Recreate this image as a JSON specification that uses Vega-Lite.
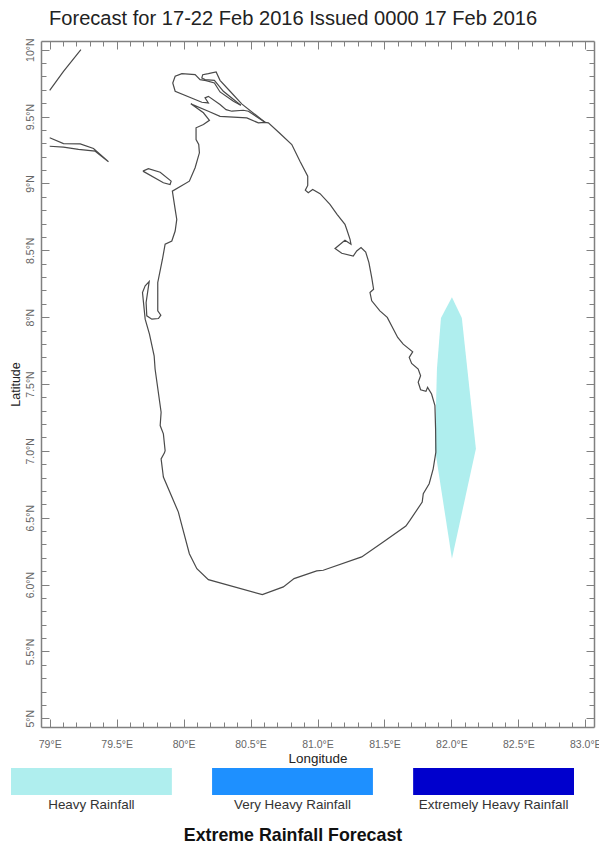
{"$schema":"https://vega.github.io/schema/vega-lite/v6.json","padding":{"left":8,"top":8,"right":0,"bottom":0},"background":"white","datasets":{"rain":[{"lat":8.149,"west":82.004,"east":82.004},{"lat":7.993,"west":81.922,"east":82.078},{"lat":7.612,"west":81.892,"east":82.119},{"lat":7.015,"west":81.877,"east":82.183},{"lat":6.194,"west":82.004,"east":82.004}],
"coast":[
{"s":"india1","seq":1,"lon":79.0,"lat":9.696},{"s":"india1","seq":2,"lon":79.103,"lat":9.838},{"s":"india1","seq":3,"lon":79.233,"lat":10.0},
{"s":"india2","seq":1,"lon":79.0,"lat":9.341},{"s":"india2","seq":2,"lon":79.103,"lat":9.298},{"s":"india2","seq":3,"lon":79.228,"lat":9.296},{"s":"india2","seq":4,"lon":79.327,"lat":9.261},{"s":"india2","seq":5,"lon":79.439,"lat":9.162},{"s":"india2","seq":6,"lon":79.34,"lat":9.241},{"s":"india2","seq":7,"lon":79.215,"lat":9.254},{"s":"india2","seq":8,"lon":79.103,"lat":9.271},{"s":"india2","seq":9,"lon":79.0,"lat":9.278},
{"s":"isle","seq":1,"lon":79.696,"lat":9.092},{"s":"isle","seq":2,"lon":79.737,"lat":9.11},{"s":"isle","seq":3,"lon":79.825,"lat":9.084},{"s":"isle","seq":4,"lon":79.907,"lat":9.017},{"s":"isle","seq":5,"lon":79.899,"lat":8.992},{"s":"isle","seq":6,"lon":79.849,"lat":9.005},{"s":"isle","seq":7,"lon":79.696,"lat":9.092},
{"s":"pen","seq":1,"lon":80.608,"lat":9.457},{"s":"pen","seq":2,"lon":80.484,"lat":9.54},{"s":"pen","seq":3,"lon":80.446,"lat":9.547},{"s":"pen","seq":4,"lon":80.36,"lat":9.54},{"s":"pen","seq":5,"lon":80.317,"lat":9.552},{"s":"pen","seq":6,"lon":80.272,"lat":9.59},{"s":"pen","seq":7,"lon":80.185,"lat":9.651},{"s":"pen","seq":8,"lon":80.16,"lat":9.64},{"s":"pen","seq":9,"lon":80.185,"lat":9.602},{"s":"pen","seq":10,"lon":80.136,"lat":9.607},{"s":"pen","seq":11,"lon":79.937,"lat":9.689},{"s":"pen","seq":12,"lon":79.919,"lat":9.751},{"s":"pen","seq":13,"lon":79.937,"lat":9.801},{"s":"pen","seq":14,"lon":79.987,"lat":9.821},{"s":"pen","seq":15,"lon":80.086,"lat":9.813},{"s":"pen","seq":16,"lon":80.123,"lat":9.776},{"s":"pen","seq":17,"lon":80.168,"lat":9.769},{"s":"pen","seq":18,"lon":80.23,"lat":9.751},{"s":"pen","seq":19,"lon":80.272,"lat":9.684},{"s":"pen","seq":20,"lon":80.372,"lat":9.614},{"s":"pen","seq":21,"lon":80.427,"lat":9.584},
{"s":"strip","seq":1,"lon":80.427,"lat":9.584},{"s":"strip","seq":2,"lon":80.297,"lat":9.689},{"s":"strip","seq":3,"lon":80.23,"lat":9.771},{"s":"strip","seq":4,"lon":80.16,"lat":9.776},{"s":"strip","seq":5,"lon":80.136,"lat":9.789},{"s":"strip","seq":6,"lon":80.143,"lat":9.813},{"s":"strip","seq":7,"lon":80.185,"lat":9.821},{"s":"strip","seq":8,"lon":80.243,"lat":9.834},{"s":"strip","seq":9,"lon":80.272,"lat":9.771},{"s":"strip","seq":10,"lon":80.347,"lat":9.689},{"s":"strip","seq":11,"lon":80.434,"lat":9.595},{"s":"strip","seq":12,"lon":80.608,"lat":9.457},
{"s":"main","seq":1,"lon":79.842,"lat":8.433},{"s":"main","seq":2,"lon":79.862,"lat":8.545},{"s":"main","seq":3,"lon":79.912,"lat":8.569},{"s":"main","seq":4,"lon":79.937,"lat":8.644},{"s":"main","seq":5,"lon":79.949,"lat":8.731},{"s":"main","seq":6,"lon":79.937,"lat":8.806},{"s":"main","seq":7,"lon":79.916,"lat":8.942},{"s":"main","seq":8,"lon":80.043,"lat":9.017},{"s":"main","seq":9,"lon":80.086,"lat":9.117},{"s":"main","seq":10,"lon":80.118,"lat":9.229},{"s":"main","seq":11,"lon":80.113,"lat":9.291},{"s":"main","seq":12,"lon":80.093,"lat":9.328},{"s":"main","seq":13,"lon":80.093,"lat":9.416},{"s":"main","seq":14,"lon":80.148,"lat":9.44},{"s":"main","seq":15,"lon":80.193,"lat":9.472},{"s":"main","seq":16,"lon":80.148,"lat":9.528},{"s":"main","seq":17,"lon":80.054,"lat":9.595},{"s":"main","seq":18,"lon":80.185,"lat":9.54},{"s":"main","seq":19,"lon":80.272,"lat":9.502},{"s":"main","seq":20,"lon":80.472,"lat":9.49},{"s":"main","seq":21,"lon":80.558,"lat":9.453},{"s":"main","seq":22,"lon":80.608,"lat":9.457},{"s":"main","seq":23,"lon":80.633,"lat":9.453},{"s":"main","seq":24,"lon":80.72,"lat":9.373},{"s":"main","seq":25,"lon":80.808,"lat":9.291},{"s":"main","seq":26,"lon":80.869,"lat":9.166},{"s":"main","seq":27,"lon":80.927,"lat":9.054},{"s":"main","seq":28,"lon":80.927,"lat":8.985},{"s":"main","seq":29,"lon":80.909,"lat":8.95},{"s":"main","seq":30,"lon":80.931,"lat":8.931},{"s":"main","seq":31,"lon":80.964,"lat":8.955},{"s":"main","seq":32,"lon":81.019,"lat":8.923},{"s":"main","seq":33,"lon":81.093,"lat":8.843},{"s":"main","seq":34,"lon":81.146,"lat":8.769},{"s":"main","seq":35,"lon":81.205,"lat":8.694},{"s":"main","seq":36,"lon":81.218,"lat":8.657},{"s":"main","seq":37,"lon":81.243,"lat":8.582},{"s":"main","seq":38,"lon":81.25,"lat":8.545},{"s":"main","seq":39,"lon":81.205,"lat":8.575},{"s":"main","seq":40,"lon":81.131,"lat":8.513},{"s":"main","seq":41,"lon":81.181,"lat":8.478},{"s":"main","seq":42,"lon":81.267,"lat":8.457},{"s":"main","seq":43,"lon":81.293,"lat":8.495},{"s":"main","seq":44,"lon":81.325,"lat":8.52},{"s":"main","seq":45,"lon":81.36,"lat":8.487},{"s":"main","seq":46,"lon":81.384,"lat":8.408},{"s":"main","seq":47,"lon":81.405,"lat":8.296},{"s":"main","seq":48,"lon":81.419,"lat":8.209},{"s":"main","seq":49,"lon":81.392,"lat":8.184},{"s":"main","seq":50,"lon":81.405,"lat":8.122},{"s":"main","seq":51,"lon":81.466,"lat":8.047},{"s":"main","seq":52,"lon":81.521,"lat":7.998},{"s":"main","seq":53,"lon":81.599,"lat":7.848},{"s":"main","seq":54,"lon":81.64,"lat":7.798},{"s":"main","seq":55,"lon":81.711,"lat":7.741},{"s":"main","seq":56,"lon":81.685,"lat":7.699},{"s":"main","seq":57,"lon":81.703,"lat":7.654},{"s":"main","seq":58,"lon":81.752,"lat":7.612},{"s":"main","seq":59,"lon":81.77,"lat":7.562},{"s":"main","seq":60,"lon":81.752,"lat":7.513},{"s":"main","seq":61,"lon":81.77,"lat":7.457},{"s":"main","seq":62,"lon":81.81,"lat":7.445},{"s":"main","seq":63,"lon":81.822,"lat":7.475},{"s":"main","seq":64,"lon":81.852,"lat":7.425},{"s":"main","seq":65,"lon":81.877,"lat":7.338},{"s":"main","seq":66,"lon":81.882,"lat":7.164},{"s":"main","seq":67,"lon":81.884,"lat":6.99},{"s":"main","seq":68,"lon":81.864,"lat":6.866},{"s":"main","seq":69,"lon":81.834,"lat":6.754},{"s":"main","seq":70,"lon":81.79,"lat":6.679},{"s":"main","seq":71,"lon":81.782,"lat":6.617},{"s":"main","seq":72,"lon":81.69,"lat":6.48},{"s":"main","seq":73,"lon":81.66,"lat":6.438},{"s":"main","seq":74,"lon":81.491,"lat":6.319},{"s":"main","seq":75,"lon":81.33,"lat":6.207},{"s":"main","seq":76,"lon":81.043,"lat":6.107},{"s":"main","seq":77,"lon":80.994,"lat":6.102},{"s":"main","seq":78,"lon":80.825,"lat":6.045},{"s":"main","seq":79,"lon":80.745,"lat":5.983},{"s":"main","seq":80,"lon":80.588,"lat":5.925},{"s":"main","seq":81,"lon":80.185,"lat":6.037},{"s":"main","seq":82,"lon":80.099,"lat":6.119},{"s":"main","seq":83,"lon":80.043,"lat":6.231},{"s":"main","seq":84,"lon":79.974,"lat":6.492},{"s":"main","seq":85,"lon":79.961,"lat":6.542},{"s":"main","seq":86,"lon":79.849,"lat":6.804},{"s":"main","seq":87,"lon":79.832,"lat":6.94},{"s":"main","seq":88,"lon":79.857,"lat":6.985},{"s":"main","seq":89,"lon":79.862,"lat":7.002},{"s":"main","seq":90,"lon":79.849,"lat":7.127},{"s":"main","seq":91,"lon":79.825,"lat":7.189},{"s":"main","seq":92,"lon":79.832,"lat":7.289},{"s":"main","seq":93,"lon":79.787,"lat":7.612},{"s":"main","seq":94,"lon":79.78,"lat":7.711},{"s":"main","seq":95,"lon":79.745,"lat":7.873},{"s":"main","seq":96,"lon":79.713,"lat":7.985},{"s":"main","seq":97,"lon":79.693,"lat":8.184},{"s":"main","seq":98,"lon":79.713,"lat":8.234},{"s":"main","seq":99,"lon":79.743,"lat":8.266},{"s":"main","seq":100,"lon":79.72,"lat":8.11},{"s":"main","seq":101,"lon":79.725,"lat":8.01},{"s":"main","seq":102,"lon":79.763,"lat":7.985},{"s":"main","seq":103,"lon":79.812,"lat":7.99},{"s":"main","seq":104,"lon":79.83,"lat":8.015},{"s":"main","seq":105,"lon":79.807,"lat":8.047},{"s":"main","seq":106,"lon":79.807,"lat":8.259},{"s":"main","seq":107,"lon":79.842,"lat":8.433}
],
"legend":[{"category":"Heavy Rainfall"},{"category":"Very Heavy Rainfall"},{"category":"Extremely Heavy Rainfall"}]},
"vconcat":[
{"width":553,"height":686,
"title":{"text":"Forecast for 17-22 Feb 2016 Issued 0000 17 Feb 2016","anchor":"start","frame":"group","offset":9,"dx":8,"font":"Liberation Sans","fontSize":20.1,"fontWeight":"normal","color":"#222222"},
"view":{"stroke":null},
"layer":[
{"data":{"name":"rain"},"mark":{"type":"area","orient":"horizontal","color":"#AFEEEE"},
"encoding":{
"y":{"field":"lat","type":"quantitative","scale":{"domain":[4.935,10.065],"nice":false,"zero":false},
"axis":{"orient":"right","title":null,"labels":false,"values":[5,5.1,5.2,5.3,5.4,5.5,5.6,5.7,5.8,5.9,6,6.1,6.2,6.3,6.4,6.5,6.6,6.7,6.8,6.9,7,7.1,7.2,7.3,7.4,7.5,7.6,7.7,7.8,7.9,8,8.1,8.2,8.3,8.4,8.5,8.6,8.7,8.8,8.9,9,9.1,9.2,9.3,9.4,9.5,9.6,9.7,9.8,9.9,10],"grid":false,"domainColor":"#808080","domainWidth":1.5,"tickColor":"#808080","tickSize":{"condition":{"test":"abs(round(datum.value*2)-datum.value*2)<0.01","value":-8},"value":-5}}},
"x":{"field":"west","type":"quantitative","scale":{"domain":[78.935,83.065],"nice":false,"zero":false},
"axis":{"orient":"top","title":null,"labels":false,"values":[79,79.1,79.2,79.3,79.4,79.5,79.6,79.7,79.8,79.9,80,80.1,80.2,80.3,80.4,80.5,80.6,80.7,80.8,80.9,81,81.1,81.2,81.3,81.4,81.5,81.6,81.7,81.8,81.9,82,82.1,82.2,82.3,82.4,82.5,82.6,82.7,82.8,82.9,83],"grid":false,"domainColor":"#808080","domainWidth":1.5,"tickColor":"#808080","tickSize":{"condition":{"test":"abs(round(datum.value*2)-datum.value*2)<0.01","value":-8},"value":-5}}},
"x2":{"field":"east"}}},
{"data":{"name":"coast"},"mark":{"type":"line","color":"#4a4a4a","strokeWidth":1.2,"clip":true},
"encoding":{
"detail":{"field":"s"},"order":{"field":"seq","type":"quantitative"},
"y":{"field":"lat","type":"quantitative",
"axis":{"orient":"left","title":"Latitude","titleFont":"Liberation Sans","titleFontSize":12.5,"titleFontWeight":"normal","titleColor":"#222222","titlePadding":0,"labelFont":"Liberation Sans","labelFontSize":10.5,"labelColor":"#666666","labelAngle":-90,"labelAlign":"center","labelBaseline":"bottom","labelPadding":14,"labelOverlap":false,"labelBound":false,"values":[5,5.1,5.2,5.3,5.4,5.5,5.6,5.7,5.8,5.9,6,6.1,6.2,6.3,6.4,6.5,6.6,6.7,6.8,6.9,7,7.1,7.2,7.3,7.4,7.5,7.6,7.7,7.8,7.9,8,8.1,8.2,8.3,8.4,8.5,8.6,8.7,8.8,8.9,9,9.1,9.2,9.3,9.4,9.5,9.6,9.7,9.8,9.9,10],"grid":false,"domainColor":"#808080","domainWidth":1.5,"tickColor":"#808080","tickSize":{"condition":{"test":"abs(round(datum.value*2)-datum.value*2)<0.01","value":-8},"value":-5},
"labelExpr":"abs(round(datum.value*2)-datum.value*2)>0.01?'':(datum.value==7||datum.value==6?format(datum.value,'.1f'):(datum.value%1==0?format(datum.value,'d'):format(datum.value,'.1f')))+'°N'"}},
"x":{"field":"lon","type":"quantitative",
"axis":{"orient":"bottom","title":"Longitude","titleFont":"Liberation Sans","titleFontSize":13.4,"titleFontWeight":"normal","titleColor":"#222222","titlePadding":-1,"labelFont":"Liberation Sans","labelFontSize":10.5,"labelColor":"#666666","labelPadding":20,"labelOverlap":false,"labelBound":false,"values":[79,79.1,79.2,79.3,79.4,79.5,79.6,79.7,79.8,79.9,80,80.1,80.2,80.3,80.4,80.5,80.6,80.7,80.8,80.9,81,81.1,81.2,81.3,81.4,81.5,81.6,81.7,81.8,81.9,82,82.1,82.2,82.3,82.4,82.5,82.6,82.7,82.8,82.9,83],"grid":false,"domainColor":"#808080","domainWidth":1.5,"tickColor":"#808080","tickSize":{"condition":{"test":"abs(round(datum.value*2)-datum.value*2)<0.01","value":-8},"value":-5},
"labelExpr":"abs(round(datum.value*2)-datum.value*2)>0.01?'':(datum.value<=80&&datum.value%1==0?format(datum.value,'d'):format(datum.value,'.1f'))+'°E'"}}}}
],
"resolve":{"axis":{"x":"independent","y":"independent"}}},
{"width":553,"height":27,"view":{"stroke":null},"data":{"name":"legend"},"mark":{"type":"rect"},
"encoding":{
"x":{"field":"category","type":"nominal","sort":null,"scale":{"range":[-30,533],"paddingInner":0.2,"paddingOuter":0},
"axis":{"title":"Extreme Rainfall Forecast","titleFont":"Liberation Sans","titleFontSize":17.8,"titleFontWeight":"bold","titleColor":"#111111","titlePadding":16,"labelFont":"Liberation Sans","labelFontSize":13.4,"labelColor":"#333333","labelAngle":0,"labelPadding":2,"ticks":false,"domain":false}},
"color":{"field":"category","type":"nominal","sort":null,"legend":null,"scale":{"domain":["Heavy Rainfall","Very Heavy Rainfall","Extremely Heavy Rainfall"],"range":["#AFEEEE","#1E90FF","#0000CD"]}}}}
],
"align":"none","spacing":3,
"config":{"style":{"cell":{"stroke":null}},"concat":{"spacing":3}}}
